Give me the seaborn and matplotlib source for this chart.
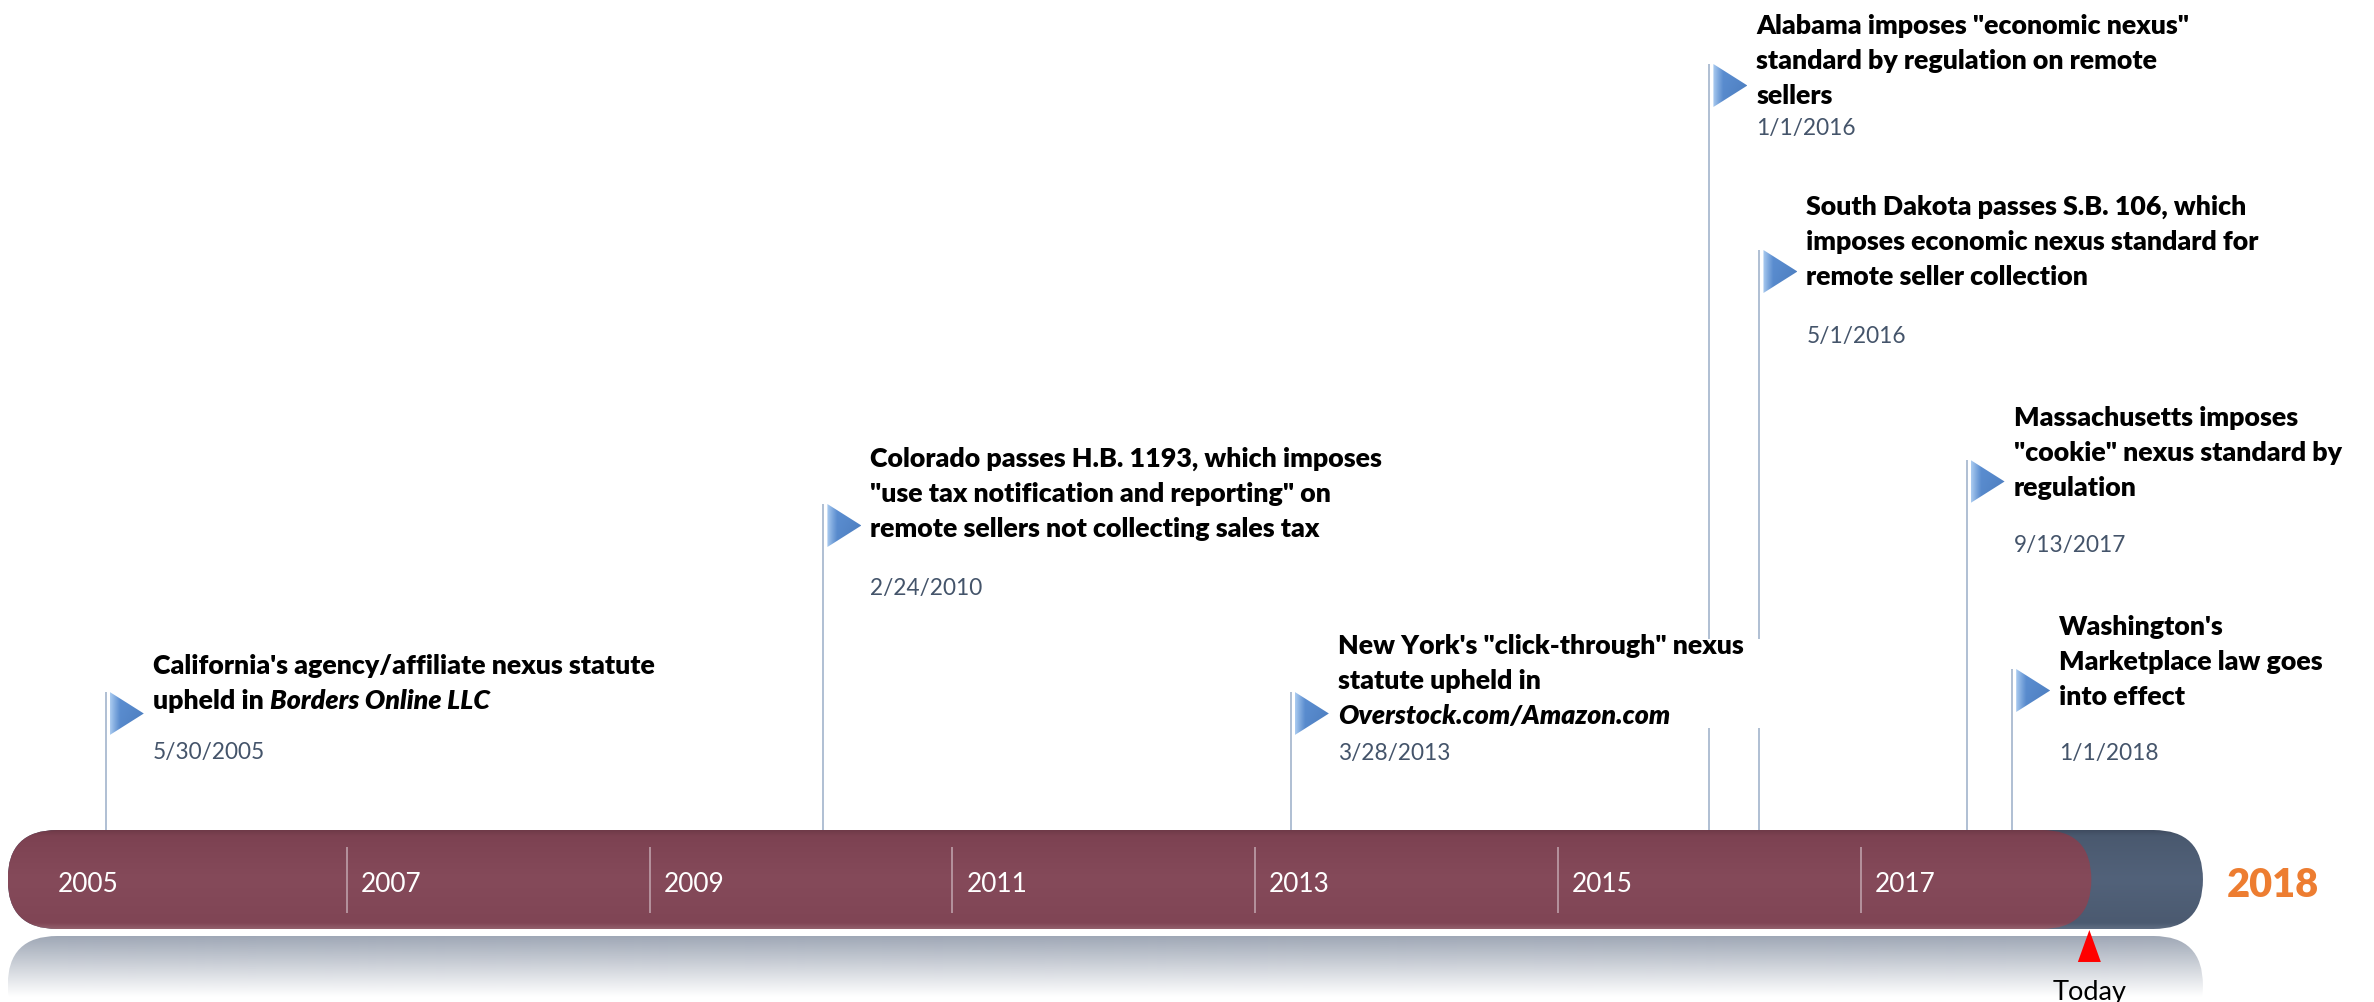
import re
import numpy as np
import pandas as pd
import matplotlib
matplotlib.use("Agg")
import matplotlib.pyplot as plt
import seaborn as sns
from matplotlib.patches import FancyBboxPatch, Polygon, Rectangle
from matplotlib.colors import to_rgb

# ---------------- data ----------------
event_dates = ["2005-05-30", "2010-02-24", "2013-03-28", "2016-01-01",
               "2016-05-01", "2017-09-13", "2018-01-01"]
event_date_labels = ["5/30/2005", "2/24/2010", "3/28/2013", "1/1/2016",
                     "5/1/2016", "9/13/2017", "1/1/2018"]
event_titles = [
    ["California's agency/affiliate nexus statute", "upheld in *Borders Online LLC*"],
    ["Colorado passes H.B. 1193, which imposes",
     "\"use tax notification and reporting\" on",
     "remote sellers not collecting sales tax"],
    ["New York's \"click-through\" nexus", "statute upheld in", "*Overstock.com/Amazon.com*"],
    ["Alabama imposes \"economic nexus\"", "standard by regulation on remote", "sellers"],
    ["South Dakota passes S.B. 106, which", "imposes economic nexus standard for",
     "remote seller collection"],
    ["Massachusetts imposes", "\"cookie\" nexus standard by", "regulation"],
    ["Washington's", "Marketplace law goes", "into effect"],
]
year_ticks = [2005, 2007, 2009, 2011, 2013, 2015, 2017]
today_date = "2018-07-06"
today_label = "Today"
end_label = "2018"

# ---------------- layout (pixels / styles) ----------------
W, H = 2374, 1002
PX_PER_YEAR = 151.4
X2005_PX = 44
BAR_START, BAR_END = 2004.76, 2019.26
BAR_TOP, BAR_BOT = 830, 929
flag_top_px = [692, 504, 692, 64, 250, 460, 669]
title_y_px = [666, 459, 646, 26, 207, 418, 627]
date_y_px = [751, 587, 752, 127, 335, 544, 752]
LINE_STEP = 35
BASE_OFF = 8  # from visual line centre to baseline
TITLE_WEIGHT = "heavy"

RED_STOPS = [(0, "#6F3A48"), (0.06, "#7D4252"), (0.5, "#854A5A"), (0.94, "#804555"), (1.0, "#93606C")]
DARK_STOPS = [(0, "#3F4C60"), (0.06, "#4A596F"), (0.5, "#52627A"), (0.94, "#4B5A70"), (1.0, "#606E82")]
STEM_COLOR = "#A9BAD0"
DATE_COLOR = "#44546A"
ORANGE = "#ED7D31"


def px2yr(px):
    return px / PX_PER_YEAR


def frac_year(s):
    d = pd.Timestamp(s)
    n = 366 if d.is_leap_year else 365
    return d.year + (d.dayofyear - 1) / n


def grad_img(stops, n=200):
    v = np.linspace(0, 1, n)
    pos = [p for p, _ in stops]
    cols = np.array([to_rgb(c) for _, c in stops])
    img = np.stack([np.interp(v, pos, cols[:, k]) for k in range(3)], axis=1)
    return img[:, None, :]


sns.set_theme(style="white")
plt.rcParams["font.family"] = ["Lato", "DejaVu Sans"]

fig = plt.figure(figsize=(W / 100, H / 100), dpi=100)
ax = fig.add_axes([0, 0, 1, 1])
xlim = (2005 - px2yr(X2005_PX), 2005 + px2yr(W - X2005_PX))
ax.set_xlim(*xlim)
ax.set_ylim(H, 0)
ax.axis("off")

renderer = fig.canvas.get_renderer()


def fit_size(text, target_px, **kw):
    t = fig.text(0, 0, text, fontsize=20, **kw)
    w = t.get_window_extent(renderer=renderer).width
    t.remove()
    return 20 * target_px / w


title_fs = 0.5 * (fit_size("California's agency/affiliate nexus statute", 500, fontweight=TITLE_WEIGHT)
                  + fit_size("Marketplace law goes", 265, fontweight=TITLE_WEIGHT))
date_fs = fit_size("9/13/2017", 112)
year_fs = fit_size("2005", 61)
end_fs = fit_size("2018", 92, fontweight="heavy")
today_fs = fit_size("Today", 74)

# ---------------- bar ----------------
r_yr = px2yr((BAR_BOT - BAR_TOP) / 2)
aspect = PX_PER_YEAR
today_x = frac_year(today_date)


def stadium(x0, x1, y0, y1, **kw):
    return FancyBboxPatch((x0, y0), x1 - x0, y1 - y0,
                          boxstyle=f"round,pad=0,rounding_size={r_yr}",
                          mutation_aspect=aspect, **kw)


# reflection
refl = stadium(BAR_START, BAR_END, BAR_BOT + 7, BAR_BOT + 7 + (BAR_BOT - BAR_TOP),
               facecolor="none", edgecolor="none")
ax.add_patch(refl)
n = 120
a = np.clip(np.linspace(0.95, -0.3, n), 0, 1)
rgba = np.zeros((n, 1, 4))
rgba[:, 0, :3] = to_rgb("#9AA3B2")
rgba[:, 0, 3] = a
im = ax.imshow(rgba, extent=(BAR_START, BAR_END, BAR_BOT + 7 + 80, BAR_BOT + 7),
               origin="upper", aspect="auto", interpolation="bilinear", zorder=1)
im.set_clip_path(refl)

# dark (future) bar
dark = stadium(BAR_START, BAR_END, BAR_TOP, BAR_BOT, facecolor="none", edgecolor="none")
ax.add_patch(dark)
im = ax.imshow(grad_img(DARK_STOPS), extent=(BAR_START, BAR_END, BAR_BOT, BAR_TOP),
               origin="upper", aspect="auto", interpolation="bilinear", zorder=2)
im.set_clip_path(dark)

# red (elapsed) bar
red = stadium(BAR_START, today_x + px2yr(2), BAR_TOP, BAR_BOT, facecolor="none",
              edgecolor="none")
ax.add_patch(red)
im = ax.imshow(grad_img(RED_STOPS), extent=(BAR_START, today_x + px2yr(2), BAR_BOT, BAR_TOP),
               origin="upper", aspect="auto", interpolation="bilinear", zorder=3)
im.set_clip_path(red)

# year dividers and labels
ax.vlines(year_ticks[1:], BAR_TOP + 17, BAR_BOT - 16, color="#B5939D", lw=1.4, zorder=4)
for yr in year_ticks:
    ax.text(yr + px2yr(14), BAR_TOP + 62, str(yr), color="white", fontsize=year_fs,
            ha="left", va="baseline", zorder=5)

ax.text(2005 + px2yr(2227 - X2005_PX), 897, end_label, color=ORANGE, fontsize=end_fs,
        fontweight="heavy", ha="left", va="baseline", zorder=5)

# today marker
today_df = pd.DataFrame({"x": [today_x], "y": [946]})
sns.scatterplot(data=today_df, x="x", y="y", ax=ax, marker=[(0, 1), (-0.72, -1), (0.72, -1)],
                s=23 ** 2, color="#FF0000", edgecolor="none", linewidth=0, zorder=6,
                legend=False)
ax.text(today_x, 1000, today_label, fontsize=today_fs, color="black", ha="center",
        va="baseline", zorder=6)

# ---------------- events ----------------
ev_x = [frac_year(d) for d in event_dates]

# stems
ax.vlines(ev_x, flag_top_px, BAR_TOP, color=STEM_COLOR, lw=1.3, zorder=1)

# white text box of the New York label (hides stems behind it, as in the reference)
ax.add_patch(Rectangle((ev_x[2] + px2yr(12), 639), px2yr(1780 - 1293 - 12), 728 - 639,
                       facecolor="white", edgecolor="none", zorder=1.5))

# flags
fw, fh = 64, 43
u = np.linspace(0, 1, fw)[None, :]
v = np.linspace(0, 1, fh)[:, None]
light = np.array(to_rgb("#AACBF0"))
mid = np.array(to_rgb("#5D90D3"))
darkb = np.array(to_rgb("#3E6DAD"))
t = np.clip(u / 0.3, 0, 1)[..., None]
flag_img = light * (1 - t) + mid * t
flag_img = flag_img * np.ones((fh, fw, 1))
shade = (0.55 * u * (0.3 + v))[..., None]
flag_img = flag_img * (1 - shade) + darkb * shade
flag_img = np.clip(flag_img, 0, 1)

for x, top in zip(ev_x, flag_top_px):
    x0 = x + px2yr(4)
    x1 = x + px2yr(38)
    poly = Polygon([(x0, top), (x0, top + fh), (x1, top + fh / 2)], closed=True,
                   facecolor="none", edgecolor="none")
    ax.add_patch(poly)
    im = ax.imshow(flag_img, extent=(x0, x1, top + fh, top), origin="upper",
                   aspect="auto", interpolation="bilinear", zorder=4)
    im.set_clip_path(poly)


def draw_line(x, yb, line):
    parts = [p for p in re.split(r"(\*[^*]+\*)", line) if p]
    prev = None
    for p in parts:
        italic = p.startswith("*")
        txt = p.strip("*").strip()
        style = "italic" if italic else "normal"
        if prev is None:
            prev = ax.text(x, yb, txt, fontsize=title_fs, fontweight=TITLE_WEIGHT, style=style,
                           color="black", ha="left", va="baseline", zorder=5)
        else:
            prev = ax.annotate(txt, xy=(1, 0), xycoords=prev, xytext=(0.24 * title_fs, 0),
                               textcoords="offset points", fontsize=title_fs,
                               fontweight=TITLE_WEIGHT, style=style, color="black",
                               ha="left", va="bottom", zorder=5)


for x, lines, ty, dy, dl in zip(ev_x, event_titles, title_y_px, date_y_px, event_date_labels):
    tx = x + px2yr(47)
    for i, line in enumerate(lines):
        draw_line(tx, ty + i * LINE_STEP + BASE_OFF, line)
    ax.text(tx, dy + BASE_OFF, dl, fontsize=date_fs, color=DATE_COLOR, ha="left",
            va="baseline", zorder=5)

ax.set_xlim(*xlim)
ax.set_ylim(H, 0)
fig.savefig("out.png", dpi=100, facecolor="white")
